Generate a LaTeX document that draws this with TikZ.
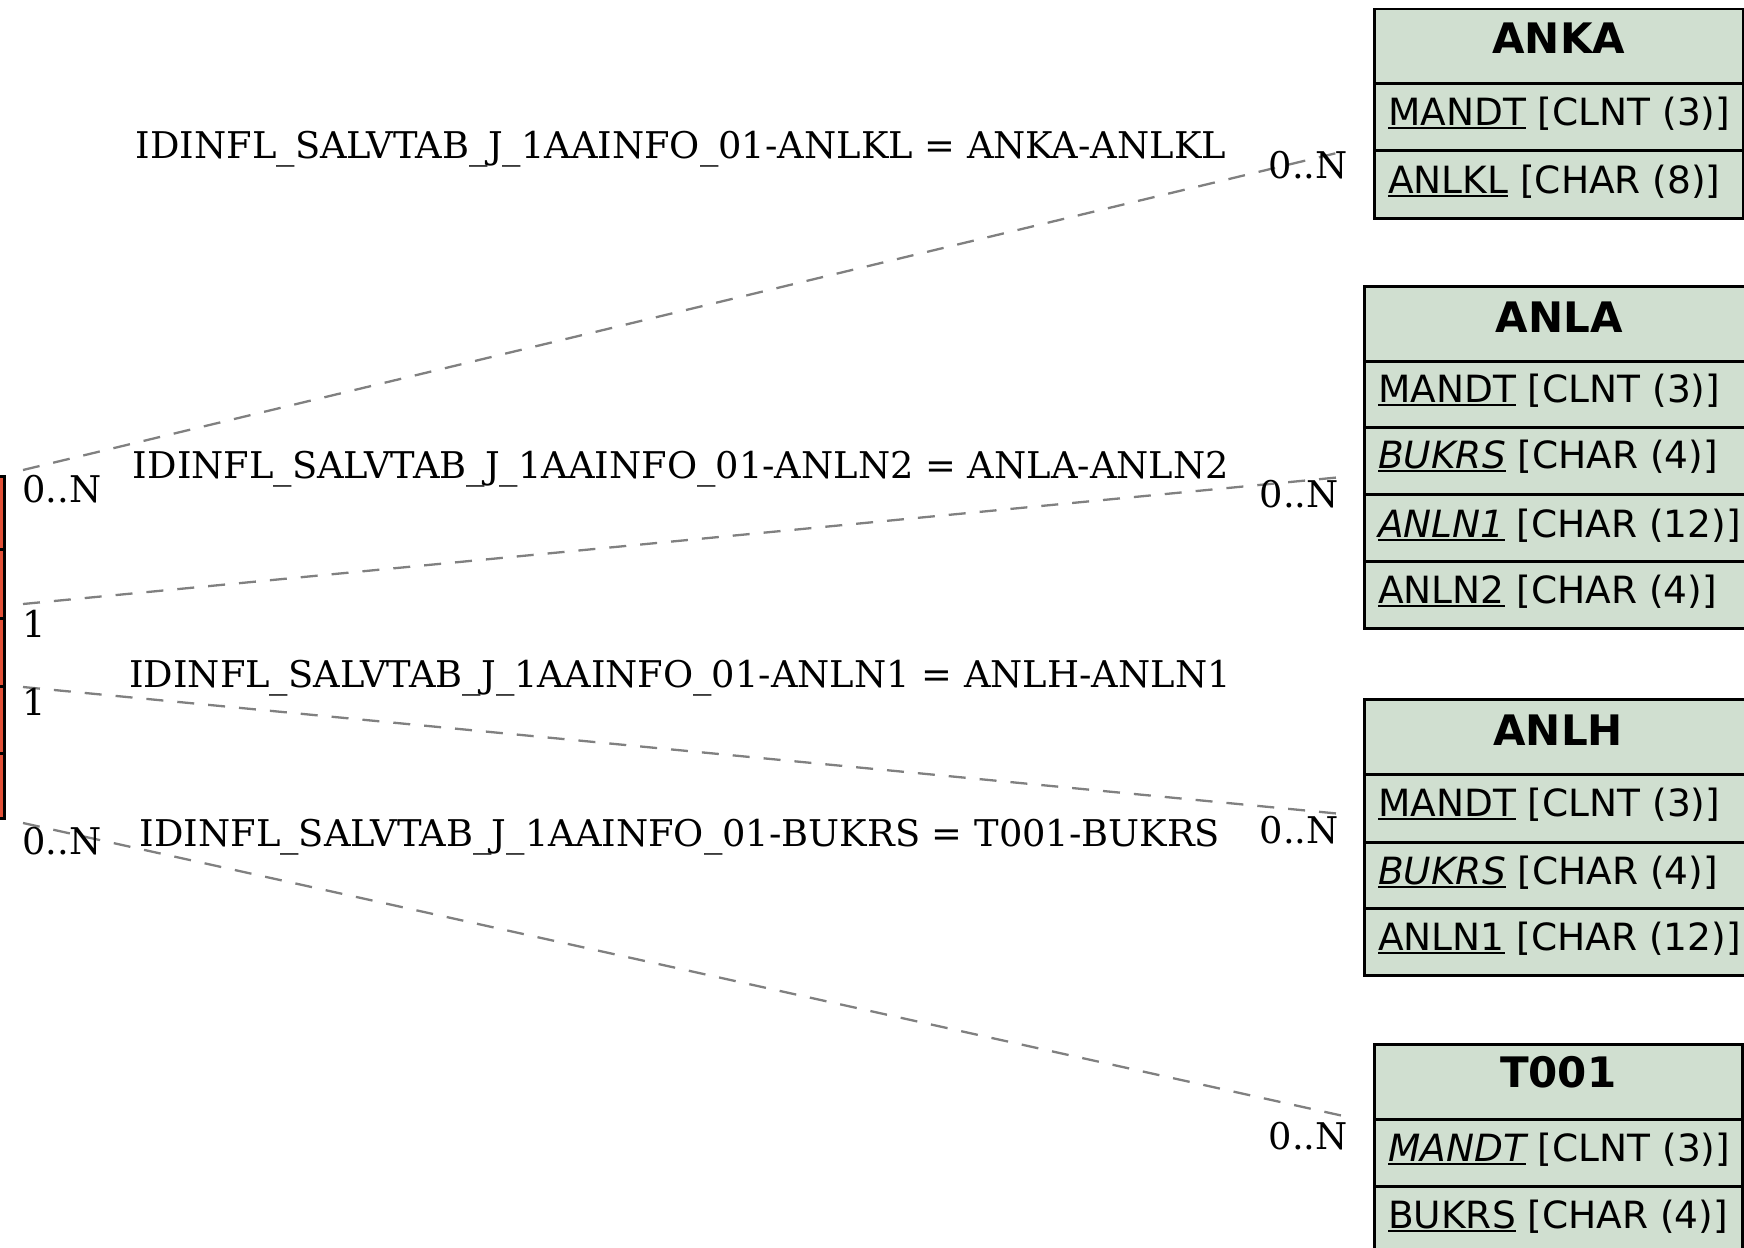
\documentclass[tikz,border=0pt]{standalone}
\usepackage{fontspec}
\newfontfamily\sansf{DejaVu Sans}
\newfontfamily\seriff{DejaVu Serif}
\definecolor{tabfill}{RGB}{208,223,208}
\definecolor{redfill}{RGB}{226,80,55}
\definecolor{relgray}{RGB}{128,128,128}
\newcommand\fldfont{\sansf\fontsize{37.5}{44}\selectfont}
\newcommand\hdrfont{\sansf\bfseries\fontsize{42}{50}\selectfont}
\newcommand\lblfont{\seriff\fontsize{36.8}{42}\selectfont}
\newsavebox\ulbox
\newcommand\ulx[1]{\sbox\ulbox{#1}\rlap{\rule[-3.8pt]{\wd\ulbox}{2.3pt}}\usebox\ulbox}
\tikzset{
  tcell/.style={draw=black, line width=2.5pt, fill=tabfill, anchor=north west, inner sep=0pt},
  redcell/.style={draw=black, line width=2.5pt, fill=redfill, anchor=north west, inner sep=0pt},
  hdr/.style={font=\hdrfont, anchor=base, inner sep=0pt},
  fld/.style={font=\fldfont, anchor=base west, inner sep=0pt},
  rel/.style={draw=relgray, line width=2.3pt, dash pattern=on 17pt off 14pt},
  cardl/.style={font=\lblfont, anchor=base west, inner sep=0pt},
  cardr/.style={font=\lblfont, anchor=base east, inner sep=0pt},
  rlabel/.style={font=\lblfont, anchor=base, inner sep=0pt},
}
\begin{document}
\begin{tikzpicture}[x=1pt,y=-1pt]
\useasboundingbox (0,0) rectangle (1744,1247);
\clip (0,0) rectangle (1744,1247);

% left table (cut off)
\node[redcell, minimum width=203pt, minimum height=73pt] (lt0) at (-200,475) {};
\node[redcell, minimum width=203pt, minimum height=69pt] (lt1) at (-200,548) {};
\node[redcell, minimum width=203pt, minimum height=68pt] (lt2) at (-200,617) {};
\node[redcell, minimum width=203pt, minimum height=67pt] (lt3) at (-200,685) {};
\node[redcell, minimum width=203pt, minimum height=65pt] (lt4) at (-200,752) {};

% ANKA
\node[tcell, minimum width=369pt, minimum height=74pt] (anka0) at (1373,8) {};
\node[tcell, minimum width=369pt, minimum height=67pt] (anka1) at (1373,82) {};
\node[tcell, minimum width=369pt, minimum height=68pt] (anka2) at (1373,149) {};
\node[hdr] (anka0t) at ([yshift=-46pt]anka0.north) {ANKA};
\node[fld] (anka1t) at ([xshift=15pt,yshift=-43pt]anka1.north west) {\ulx{MANDT} [CLNT (3)]};
\node[fld] (anka2t) at ([xshift=15pt,yshift=-44pt]anka2.north west) {\ulx{ANLKL} [CHAR (8)]};

% ANLA
\node[tcell, minimum width=390pt, minimum height=75pt] (anla0) at (1363,285) {};
\node[tcell, minimum width=390pt, minimum height=66pt] (anla1) at (1363,360) {};
\node[tcell, minimum width=390pt, minimum height=67pt] (anla2) at (1363,426) {};
\node[tcell, minimum width=390pt, minimum height=67pt] (anla3) at (1363,493) {};
\node[tcell, minimum width=390pt, minimum height=67pt] (anla4) at (1363,560) {};
\node[hdr] (anla0t) at ([yshift=-47pt]anla0.north) {ANLA};
\node[fld] (anla1t) at ([xshift=15pt,yshift=-42pt]anla1.north west) {\ulx{MANDT} [CLNT (3)]};
\node[fld] (anla2t) at ([xshift=15pt,yshift=-42pt]anla2.north west) {\ulx{\itshape BUKRS} [CHAR (4)]};
\node[fld] (anla3t) at ([xshift=15pt,yshift=-44pt]anla3.north west) {\ulx{\itshape ANLN1} [CHAR (12)]};
\node[fld] (anla4t) at ([xshift=15pt,yshift=-43pt]anla4.north west) {\ulx{ANLN2} [CHAR (4)]};

% ANLH
\node[tcell, minimum width=388pt, minimum height=75pt] (anlh0) at (1363,698) {};
\node[tcell, minimum width=388pt, minimum height=68pt] (anlh1) at (1363,773) {};
\node[tcell, minimum width=388pt, minimum height=66pt] (anlh2) at (1363,841) {};
\node[tcell, minimum width=388pt, minimum height=67pt] (anlh3) at (1363,907) {};
\node[hdr] (anlh0t) at ([yshift=-47pt]anlh0.north) {ANLH};
\node[fld] (anlh1t) at ([xshift=15pt,yshift=-43pt]anlh1.north west) {\ulx{MANDT} [CLNT (3)]};
\node[fld] (anlh2t) at ([xshift=15pt,yshift=-43pt]anlh2.north west) {\ulx{\itshape BUKRS} [CHAR (4)]};
\node[fld] (anlh3t) at ([xshift=15pt,yshift=-43pt]anlh3.north west) {\ulx{ANLN1} [CHAR (12)]};

% T001
\node[tcell, minimum width=368pt, minimum height=75pt] (t0010) at (1373,1043) {};
\node[tcell, minimum width=368pt, minimum height=67pt] (t0011) at (1373,1118) {};
\node[tcell, minimum width=368pt, minimum height=67pt] (t0012) at (1373,1185) {};
\node[hdr] (t0010t) at ([yshift=-44pt]t0010.north) {T001};
\node[fld] (t0011t) at ([xshift=15pt,yshift=-43pt]t0011.north west) {\ulx{\itshape MANDT} [CLNT (3)]};
\node[fld] (t0012t) at ([xshift=15pt,yshift=-43pt]t0012.north west) {\ulx{BUKRS} [CHAR (4)]};

% connector ends
\coordinate (s1) at (23,470);
\coordinate (s2) at (23,604);
\coordinate (s3) at (23,687);
\coordinate (s4) at (23,823);
\coordinate (e1) at ([xshift=-30pt]anka1.south west);
\coordinate (e2) at (1342,477);
\coordinate (e3) at (1342,814);
\coordinate (e4) at (1348,1117);

\draw[rel] (s1) -- (e1);
\draw[rel] (s2) -- (e2);
\draw[rel] (s3) -- (e3);
\draw[rel] (s4) -- (e4);

% relation labels
\node[rlabel] (r1) at (681,158) {IDINFL\_SALVTAB\_J\_1AAINFO\_01-ANLKL = ANKA-ANLKL};
\node[rlabel] (r2) at (681,478) {IDINFL\_SALVTAB\_J\_1AAINFO\_01-ANLN2 = ANLA-ANLN2};
\node[rlabel] (r3) at (680,687) {IDINFL\_SALVTAB\_J\_1AAINFO\_01-ANLN1 = ANLH-ANLN1};
\node[rlabel] (r4) at (680,846) {IDINFL\_SALVTAB\_J\_1AAINFO\_01-BUKRS = T001-BUKRS};

% cardinalities
\node[cardl] (c1l) at (22,502) {0..N};
\node[cardl] (c2l) at (22,637) {1};
\node[cardl] (c3l) at (22,715) {1};
\node[cardl] (c4l) at (22,854) {0..N};
\node[cardr] (c1r) at (1348,178) {0..N};
\node[cardr] (c2r) at (1339,507) {0..N};
\node[cardr] (c3r) at (1339,843) {0..N};
\node[cardr] (c4r) at (1348,1149) {0..N};
\end{tikzpicture}
\end{document}
